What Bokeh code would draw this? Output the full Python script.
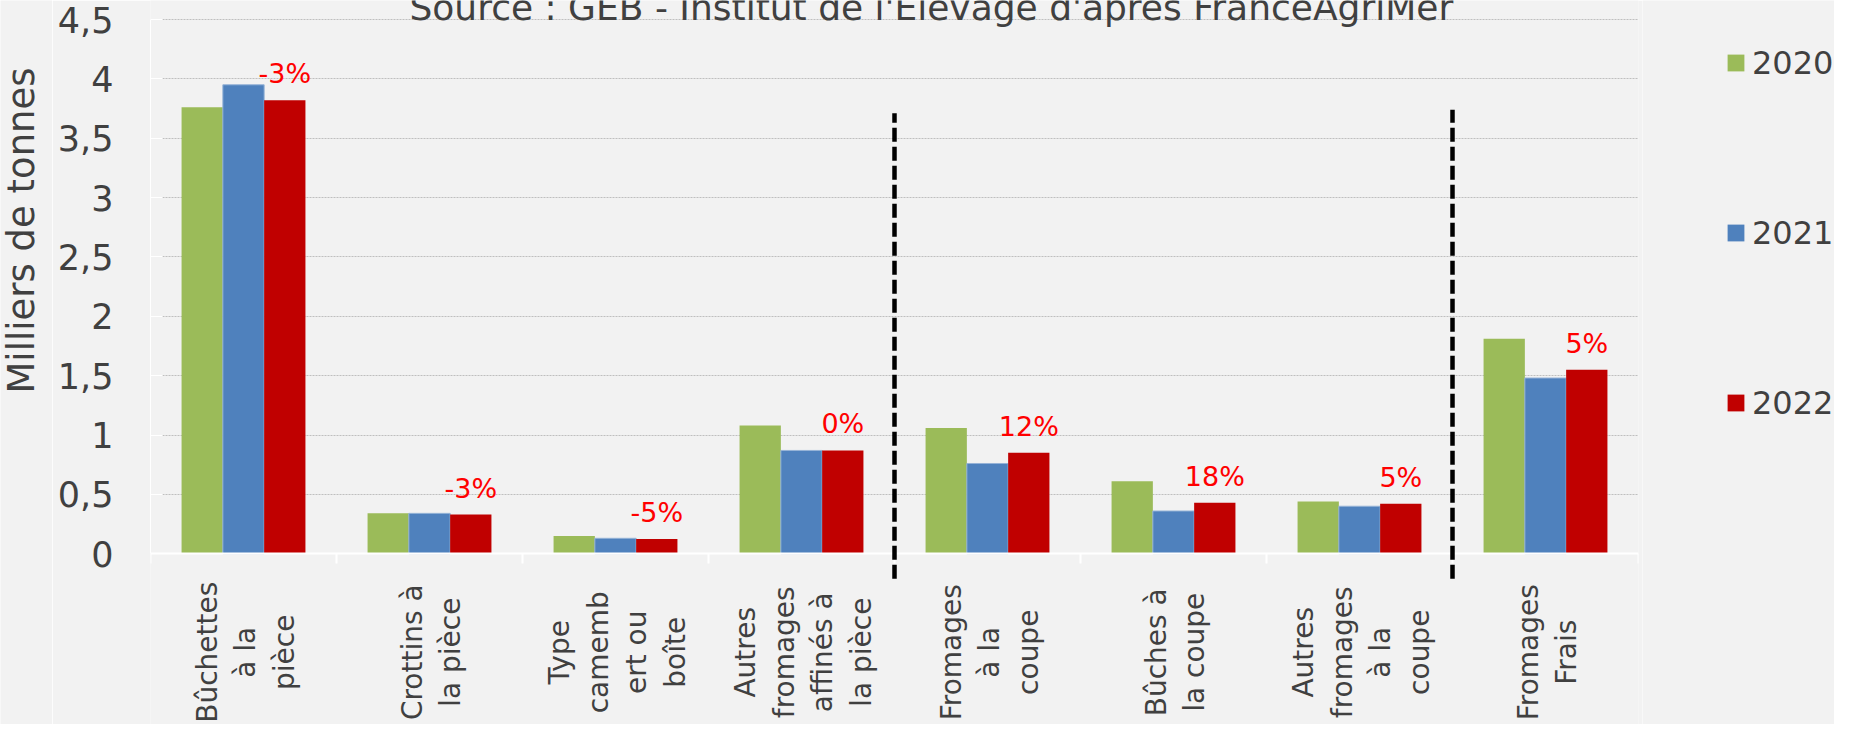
import math
from bokeh.plotting import figure
from bokeh.layouts import row
from bokeh.core.properties import value
from bokeh.models import (ColumnDataSource, Range1d, LinearAxis, FixedTicker,
                          CustomJSTickFormatter, LabelSet, Label, Arrow, Legend, LegendItem)
from bokeh.transform import dodge
from bokeh.embed import file_html
from bokeh.resources import INLINE

# ---------------- data ----------------
categories = ["Bûchettes à la pièce", "Crottins à la pièce", "Type camembert ou boîte",
              "Autres fromages affinés à la pièce", "Fromages à la coupe", "Bûches à la coupe",
              "Autres fromages à la coupe", "Fromages Frais"]
category_labels = ["Bûchettes\nà la\npièce", "Crottins à\nla pièce", "Type\ncamemb\nert ou\nboîte",
                   "Autres\nfromages\naffinés à\nla pièce", "Fromages\nà la\ncoupe", "Bûches à\nla coupe",
                   "Autres\nfromages\nà la\ncoupe", "Fromages\nFrais"]
v2020 = [3.76, 0.34, 0.15, 1.08, 1.06, 0.61, 0.44, 1.81]
v2021 = [3.95, 0.34, 0.13, 0.87, 0.76, 0.36, 0.40, 1.48]
v2022 = [3.82, 0.33, 0.125, 0.87, 0.85, 0.43, 0.42, 1.55]
pct_labels = ["-3%", "-3%", "-5%", "0%", "12%", "18%", "5%", "5%"]
years = ["2020", "2021", "2022"]
y_ticks = [0, 0.5, 1, 1.5, 2, 2.5, 3, 3.5, 4, 4.5]
y_tick_labels = ["0", "0,5", "1", "1,5", "2", "2,5", "3", "3,5", "4", "4,5"]
separator_after = [4, 7]  # dashed separators after these many categories
title_text = "Source : GEB - Institut de l'Elevage d'après FranceAgriMer"
y_title = "Milliers de tonnes"

colors = ["#9BBB59", "#4F81BD", "#C00000"]
BG = "#F2F2F2"
TXT = "#404040"
FONT = "DejaVu Sans"
H = 724

n = len(categories)
xc = [i + 0.5 for i in range(n)]  # category slot centres on the axis
src = ColumnDataSource(dict(x=xc, cat=categories, v2020=v2020, v2021=v2021,
                            v2022=v2022, pct=pct_labels))

# category names: one vertical text per line, lines centred on the slot
LINE_STEP = 38.5 / 186.0  # line pitch expressed in slot units
lx, lt = [], []
for c, lab in zip(xc, category_labels):
    lines = lab.split("\n")
    for j, ln in enumerate(lines):
        lx.append(c + (j - (len(lines) - 1) / 2) * LINE_STEP + 0.012)
        lt.append(ln)
lab_src = ColumnDataSource(dict(x=lx, text=lt))

# ---------------- y-axis title panel ----------------
tf = figure(x_range=Range1d(0, 52), y_range=Range1d(0, H), width=52, height=H,
            output_backend="svg", toolbar_location=None, x_axis_location=None,
            y_axis_location=None, min_border=0)
tf.background_fill_color = BG
tf.border_fill_color = BG
tf.outline_line_color = None
tf.grid.grid_line_color = None
tf.add_layout(Label(x=21, y=494, text=y_title, angle=math.pi / 2, text_align="center",
                    text_baseline="middle", text_font=FONT, text_font_size="37px",
                    text_color=TXT))

# ---------------- main chart ----------------
# value axis spans 0..4.5; the frame also holds the title above and category names below
p = figure(x_range=Range1d(0, n), y_range=Range1d(-1.4385, 4.660),
           width=1590, height=H, output_backend="svg", toolbar_location=None,
           x_axis_location=None, min_border_left=98, min_border_right=4,
           min_border_top=0, min_border_bottom=0)
p.background_fill_color = BG
p.border_fill_color = BG
p.outline_line_color = None
p.xgrid.grid_line_color = None
p.ygrid.grid_line_color = "#BFBFBF"
p.ygrid.grid_line_dash = "2 1"
p.ygrid.grid_line_width = 1

yax = p.yaxis[0]
yax.ticker = FixedTicker(ticks=y_ticks)
yax.bounds = (y_ticks[0], y_ticks[-1])
yax.formatter = CustomJSTickFormatter(args=dict(yt=y_ticks, yl=y_tick_labels), code="""
    for (let i = 0; i < yt.length; i++) { if (Math.abs(yt[i] - tick) < 1e-9) return yl[i]; }
    return '';
""")
yax.axis_line_color = "white"
yax.major_tick_line_color = "white"
yax.major_tick_in = 12
yax.major_tick_out = 0
yax.minor_tick_line_color = None
yax.major_label_standoff = 37
yax.major_label_text_font = FONT
yax.major_label_text_font_size = "35px"
yax.major_label_text_color = TXT

# x axis at value 0: ticks at category boundaries, names drawn below as centred labels
xax = LinearAxis(ticker=FixedTicker(ticks=list(range(n + 1))), fixed_location=0,
                 formatter=CustomJSTickFormatter(code="return ''"))
xax.axis_line_color = "white"
xax.axis_line_width = 2
xax.major_tick_line_color = "white"
xax.major_tick_line_width = 2
xax.major_tick_out = 10
xax.major_tick_in = 0
xax.minor_tick_line_color = None
p.add_layout(xax, "below")

bw = 0.222
for i, (yr, col) in enumerate(zip(years, colors)):
    p.vbar(x=dodge("x", (i - 1) * bw), top="v" + yr, bottom=0, width=bw,
           source=src, fill_color=col,
           line_color="#95B3D7" if i == 1 else None, line_width=1)

# percentage labels above 2022 bars
p.add_layout(LabelSet(x=dodge("x", bw), y="v2022", text="pct", source=src,
                      y_offset=17, text_align="center", text_baseline="alphabetic",
                      text_color="#FF0000", text_font=value(FONT), text_font_size="27px"))

# category names (vertical, centred)
p.add_layout(LabelSet(x="x", y=-0.83, text="text", source=lab_src, angle=math.pi / 2,
                      text_align="center", text_baseline="middle", text_color=TXT,
                      text_font=value(FONT), text_font_size="28px"))

# dashed separators
for k, top in zip(separator_after, [3.71, 3.74]):
    p.add_layout(Arrow(end=None, x_start=k, y_start=-0.21, x_end=k, y_end=top,
                       line_color="black", line_width=4.5, line_dash="14 5"))

# title (partially cut at the top edge, as in the reference)
p.add_layout(Label(x=4.198, y=4.604, text=title_text, text_align="center",
                   text_baseline="alphabetic", text_font=FONT, text_font_size="36px",
                   text_color=TXT))

# ---------------- legend panel ----------------
lf = figure(x_range=Range1d(0, 1), y_range=Range1d(0, 1), width=192, height=H,
            output_backend="svg", toolbar_location=None, x_axis_location=None,
            y_axis_location=None, min_border=0)
lf.background_fill_color = BG
lf.border_fill_color = BG
lf.outline_line_color = None
lf.grid.grid_line_color = None
leg_src = ColumnDataSource(dict(x=[5], top=[1]))  # swatch renderers, kept outside the view
lrs = [lf.vbar(x="x", top="top", width=0.1, source=leg_src, fill_color=c, line_color=None)
       for c in colors]
legend = Legend(items=[LegendItem(label=yr, renderers=[r]) for yr, r in zip(years, lrs)],
                location=(83, 302.5), orientation="vertical", spacing=132, padding=0, margin=0,
                glyph_width=21, glyph_height=21, label_standoff=6,
                label_text_font=FONT, label_text_font_size="32px", label_text_color=TXT,
                border_line_color=None, background_fill_alpha=0)
lf.add_layout(legend, "center")

open("out.html", "w").write(file_html(row(tf, p, lf), INLINE))
